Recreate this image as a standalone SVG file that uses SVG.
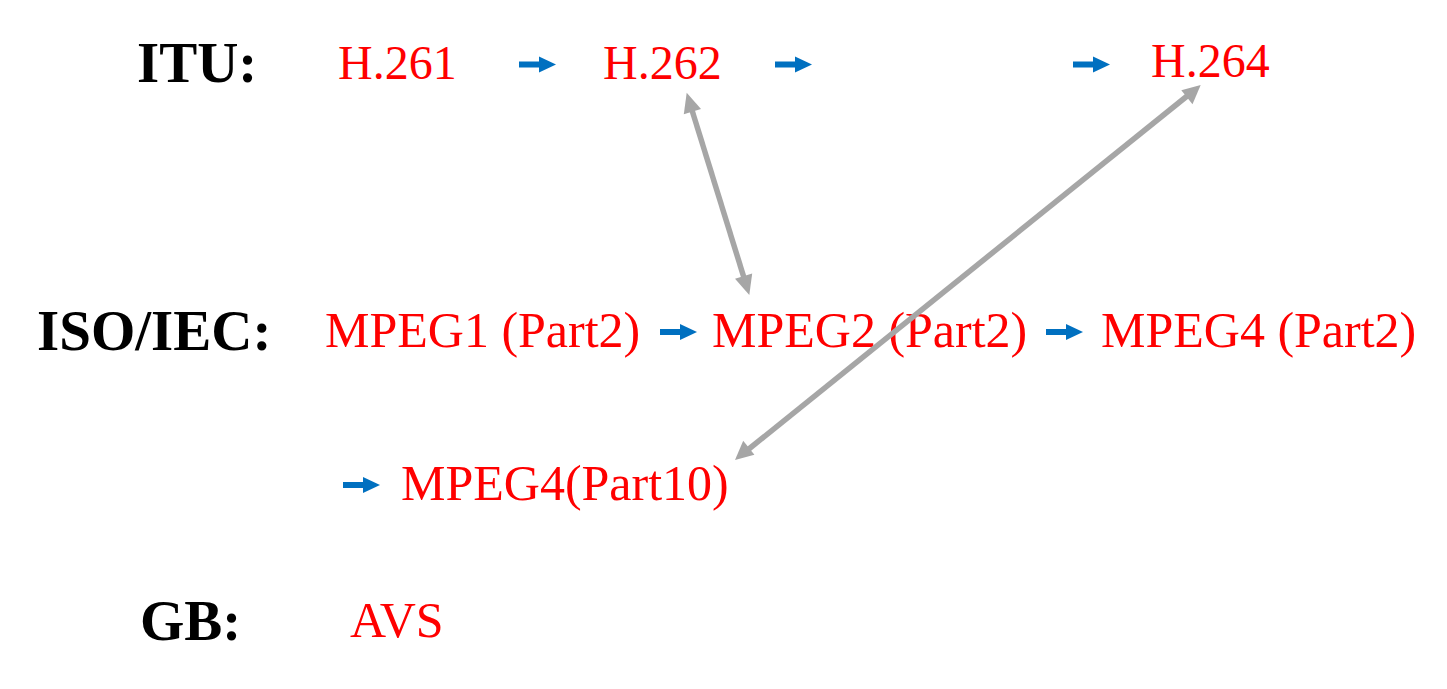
<svg xmlns="http://www.w3.org/2000/svg" width="1447" height="689" viewBox="0 0 1447 689">
<style>
.lbl{font-family:"Liberation Serif","Times New Roman",serif;font-weight:bold;font-size:57px;fill:#000}
.std{font-family:"Liberation Serif","Times New Roman",serif;font-size:50px;fill:#FF0000}
.itu{font-size:48px}
.blue{fill:#0070C0}
.gray{stroke:#A6A6A6;stroke-width:5.5;fill:none}
.gh{fill:#A6A6A6}
</style>
<defs>
<path id="ba" d="M0,-3 L20,-3 L20,-8 L37,0 L20,8 L20,3 L0,3 Z"/>
</defs>
<rect width="1447" height="689" fill="#fff"/>
<g id="row-labels">
<text class="lbl" x="137" y="82">ITU:</text>
<text class="lbl" x="37" y="350">ISO/IEC:</text>
<text class="lbl" x="140" y="640">GB:</text>
</g>
<g id="h261"><text class="std itu" x="338" y="79">H.261</text></g>
<g id="h262"><text class="std itu" x="603" y="79">H.262</text></g>
<g id="h264"><text class="std itu" x="1151" y="77">H.264</text></g>
<g id="mpeg1"><text class="std" x="325" y="347">MPEG1 (Part2)</text></g>
<g id="mpeg2"><text class="std" x="712" y="347">MPEG2 (Part2)</text></g>
<g id="mpeg4p2"><text class="std" x="1101" y="347">MPEG4 (Part2)</text></g>
<g id="mpeg4p10"><text class="std" x="401" y="500">MPEG4(Part10)</text></g>
<g id="avs"><text class="std" x="350" y="637">AVS</text></g>
<g id="connectors">
<use href="#ba" class="blue" x="519" y="64.5"/>
<use href="#ba" class="blue" x="775" y="64.5"/>
<use href="#ba" class="blue" x="1073" y="64.5"/>
<use href="#ba" class="blue" x="660" y="332"/>
<use href="#ba" class="blue" x="1046" y="332"/>
<use href="#ba" class="blue" x="343" y="485"/>
<line class="gray" x1="691" y1="107" x2="745" y2="281"/>
<polygon class="gh" points="686.7,92.7 701,109 683.8,114.3"/>
<polygon class="gh" points="749.3,295 752.2,273.4 735,278.7"/>
<line class="gray" x1="747" y1="450.5" x2="1189" y2="94.5"/>
<polygon class="gh" points="1200.7,85 1192.5,104.2 1181.3,90.2"/>
<polygon class="gh" points="735,460 743.2,440.8 754.4,454.8"/>
</g>
</svg>
